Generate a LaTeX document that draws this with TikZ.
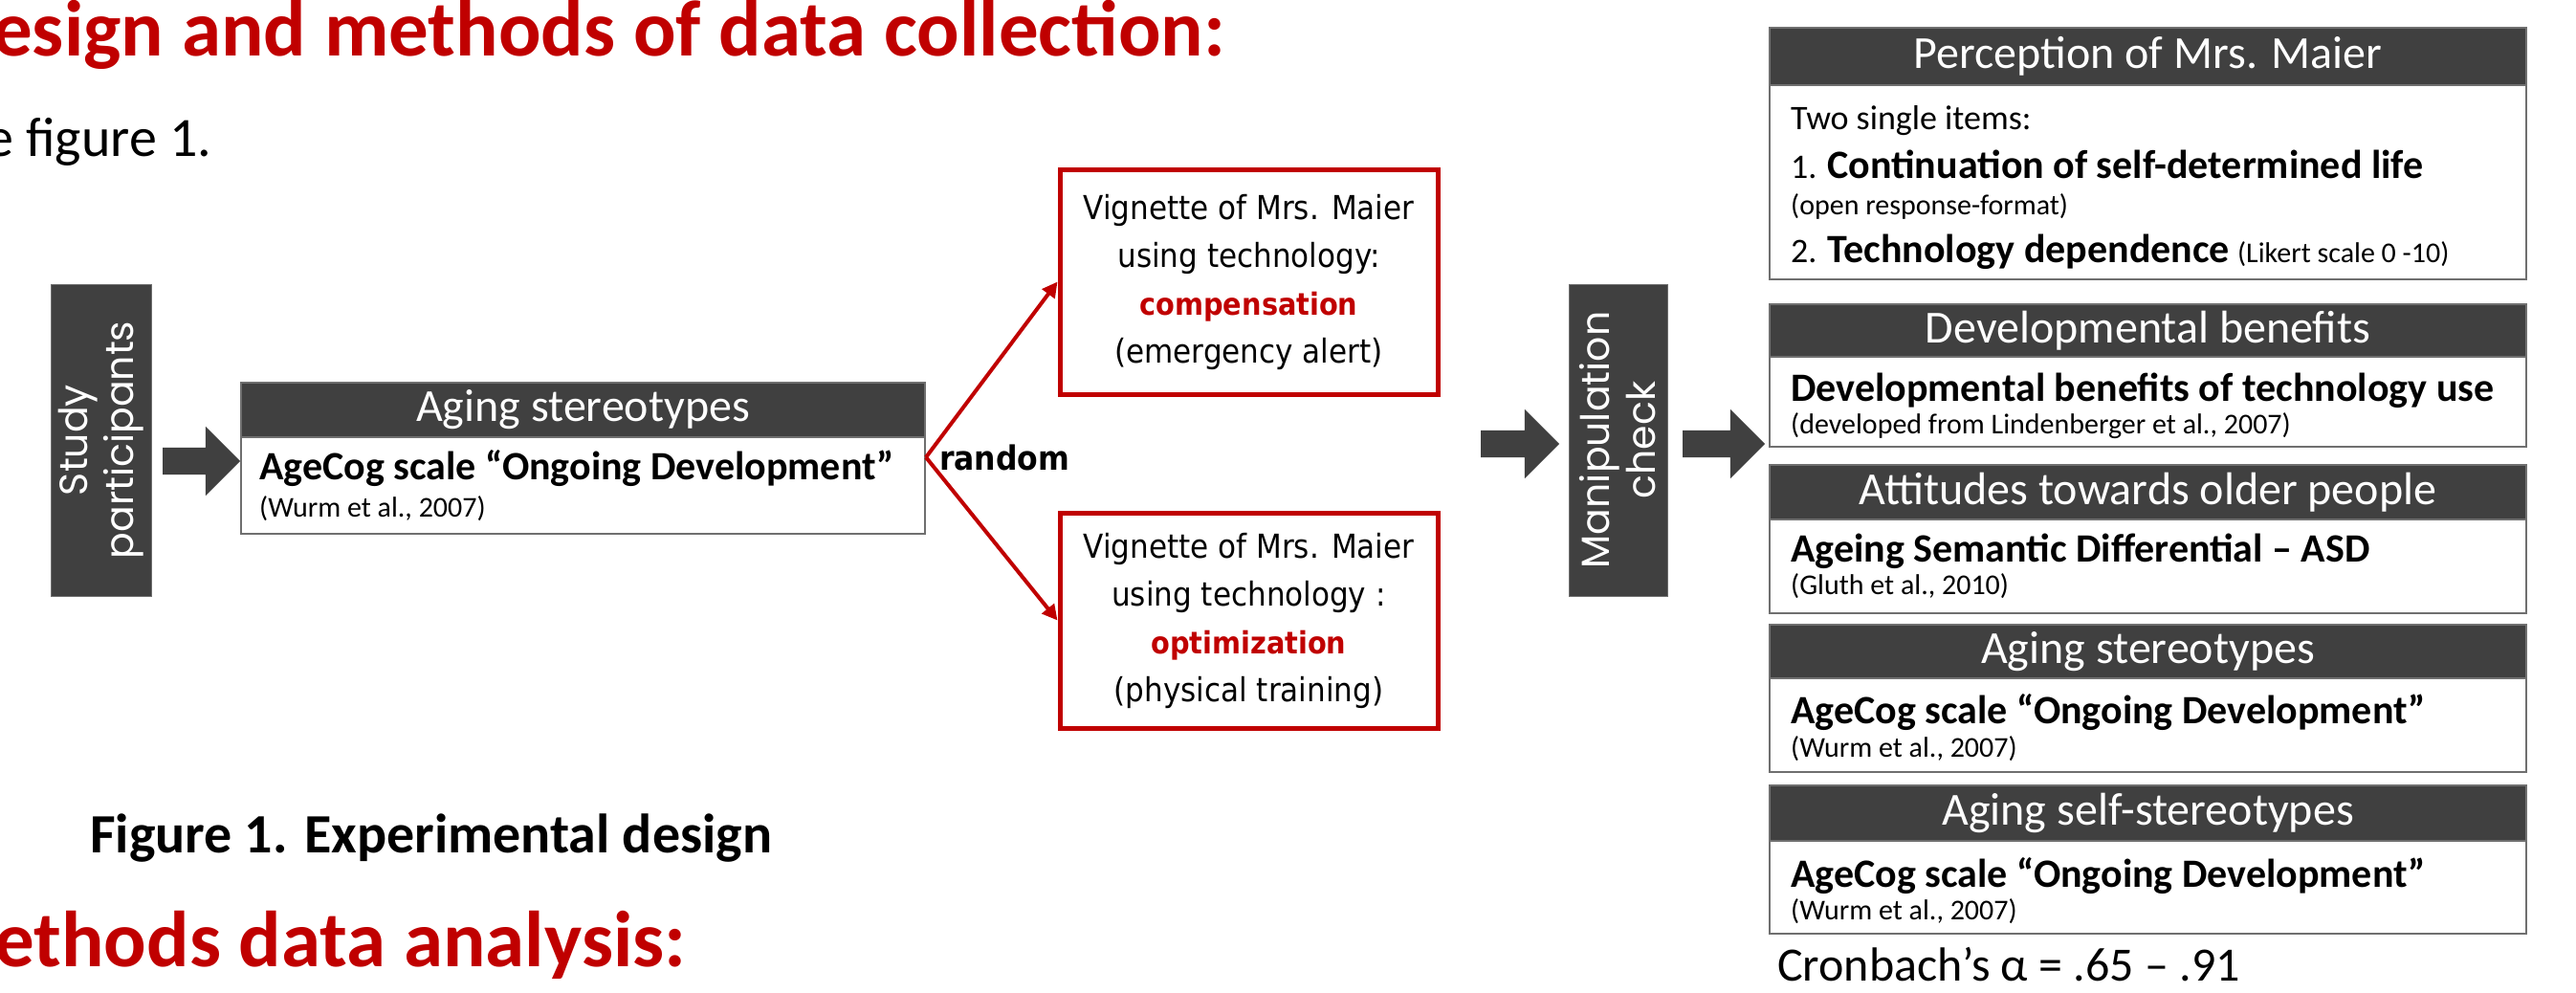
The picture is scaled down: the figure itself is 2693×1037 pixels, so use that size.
\documentclass[tikz,border=0pt]{standalone}
\usepackage{fontspec}
\setmainfont{Carlito}
\newfontfamily\vigfont{DejaVu Sans Condensed}
\newfontfamily\geofont{Poppins}
\usetikzlibrary{shapes.arrows,arrows.meta}
\definecolor{dkgray}{HTML}{404040}
\definecolor{dred}{HTML}{C00000}
\definecolor{bgray}{HTML}{6F6F6F}
\newcommand\fsz[2]{\fontsize{#1}{#2}\selectfont}
\begin{document}
\begin{tikzpicture}[x=1pt,y=-1pt,
  hdr/.style={fill=dkgray, draw=bgray, line width=1.5, text=white, inner sep=0, font=\fsz{48}{52}},
  bodybox/.style={draw=bgray, line width=2.5, fill=white, inner sep=0},
  vbar/.style={fill=dkgray, draw=bgray, line width=1, text=white, inner sep=0, rotate=90, align=center, font=\geofont\fsz{41}{48}},
  blockarrow/.style={single arrow, fill=dkgray, draw=none, inner xsep=0, inner ysep=14, single arrow head extend=22, single arrow tip angle=90},
  vig/.style={draw=dred, line width=5, fill=white, inner sep=0, minimum width=395, align=center, font=\vigfont\fsz{34.5}{50}},
  bline/.style={anchor=base west, inner sep=0, font=\bfseries\fsz{42}{50}},
  sline/.style={anchor=base west, inner sep=0, font=\fsz{30}{36}},
  rline/.style={anchor=base west, inner sep=0, font=\fsz{36}{42}},
  redcon/.style={draw=dred, line width=4, -{Triangle[length=16,width=16]}}
]
\useasboundingbox (0,0) rectangle (2693,1037);

% page texts
\node[anchor=base west, inner sep=0, text=dred, font=\bfseries\fsz{83}{90}] (title) at (-8,58) {esign and methods of data collection:};
\node[anchor=base west, inner sep=0, font=\fsz{58}{64}] (see) at (-15,163) {e figure 1.};
\node[anchor=base west, inner sep=0, font=\bfseries\fsz{58}{64}] (cap) at (94,891) {Figure 1. Experimental design};
\node[anchor=base west, inner sep=0, text=dred, font=\bfseries\fsz{83}{90}] (title2) at (-6,1010) {ethods data analysis:};

% study participants
\node[vbar, minimum width=326, minimum height=105] (study) at (105.5,460) {Study\\participants};
\node[blockarrow, minimum height=81] (a1) at (203.5,482) {};

% left aging stereotypes
\node[bodybox, minimum width=715, minimum height=101] (lbody) at (609.5,507.5) {};
\node[hdr, minimum width=715, minimum height=57] (lhdr) at (609.5,428.5) {Aging stereotypes};
\node[bline] (lb1) at (271,501) {AgeCog scale “Ongoing Development”};
\node[sline] (lb2) at (271,540) {(Wurm et al., 2007)};

% random split
\coordinate (split) at (968,478);
\node[anchor=west, inner sep=0, font=\vigfont\bfseries\fsz{35}{40}] (rnd) at (982,478) {random};

% vignettes
\node[vig, minimum height=235] (vtop) at (1305.5,294.5) {Vignette of Mrs. Maier\\using technology:\\{\bfseries\color{dred}\fsz{32}{50}compensation}\\(emergency alert)};
\node[vig, minimum height=225] (vbot) at (1305.5,648.5) {Vignette of Mrs. Maier\\using technology :\\{\bfseries\color{dred}\fsz{32}{50}optimization}\\(physical training)};
\draw[redcon] (split) -- (vtop.west);
\draw[redcon] (split) -- (vbot.west);

% manipulation check
\node[blockarrow, minimum height=82] (a2) at (1582,464) {};
\node[vbar, minimum width=326, minimum height=103] (manip) at (1691.5,460) {Manipulation\\check};
\node[blockarrow, minimum height=86] (a3) at (1795,464) {};

% right column
\node[bodybox, minimum width=791, minimum height=203] (pbody) at (2245.5,190.5) {};
\node[hdr, minimum width=791, minimum height=60] (phdr) at (2245.5,59) {Perception of Mrs. Maier};
\node[rline] (p1) at (1872,135) {Two single items:};
\node[rline] (p2) at (1872,186) {1. {\bfseries\fsz{42}{50}Continuation of self-determined life}};
\node[sline] (p3) at (1872,224) {(open response-format)};
\node[rline] (p4) at (1872,274) {2. {\bfseries\fsz{42}{50}Technology dependence} {\fsz{30}{36}(Likert scale 0 -10)}};

\node[bodybox, minimum width=791, minimum height=94] (dbody) at (2245.5,420) {};
\node[hdr, minimum width=791, minimum height=55] (dhdr) at (2245.5,345.5) {Developmental benefits};
\node[bline] (d1) at (1872,419) {Developmental benefits of technology use};
\node[sline] (d2) at (1872,453) {(developed from Lindenberger et al., 2007)};

\node[bodybox, minimum width=791, minimum height=98] (abody) at (2245.5,592) {};
\node[hdr, minimum width=791, minimum height=57] (ahdr) at (2245.5,514.5) {Attitudes towards older people};
\node[bline] (at1) at (1872,587) {Ageing Semantic Differential – ASD};
\node[sline] (at2) at (1872,621) {(Gluth et al., 2010)};

\node[bodybox, minimum width=791, minimum height=98] (sbody) at (2245.5,758) {};
\node[hdr, minimum width=791, minimum height=56] (shdr) at (2245.5,681) {Aging stereotypes};
\node[bline] (s1) at (1872,756) {AgeCog scale “Ongoing Development”};
\node[sline] (s2) at (1872,791) {(Wurm et al., 2007)};

\node[bodybox, minimum width=791, minimum height=97] (ssbody) at (2245.5,927.5) {};
\node[hdr, minimum width=791, minimum height=58] (sshdr) at (2245.5,850) {Aging self-stereotypes};
\node[bline] (ss1) at (1872,927) {AgeCog scale “Ongoing Development”};
\node[sline] (ss2) at (1872,961) {(Wurm et al., 2007)};

\node[anchor=base west, inner sep=0, font=\fsz{50}{56}] (cron) at (1858,1025) {Cronbach’s α = .65 – .91};
\end{tikzpicture}
\end{document}
